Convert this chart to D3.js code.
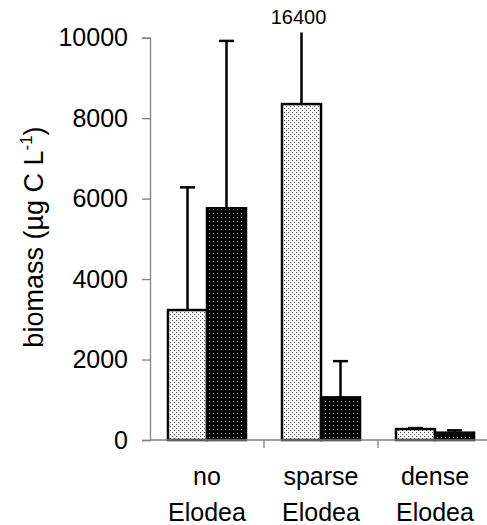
<!DOCTYPE html>
<html>
<head>
<meta charset="utf-8">
<script src="https://cdn.jsdelivr.net/npm/d3@7"></script>
<style>
  body { margin: 0; background: #fff; }
  text { font-family: "Liberation Sans", Arial, sans-serif; fill: #000; }
</style>
</head>
<body>
<svg id="chart" width="487" height="525"></svg>
<script>
// biomass by Elodea treatment, two series per group
const categories = ["no Elodea", "sparse Elodea", "dense Elodea"]
const categoryLines = [["no", "Elodea"], ["sparse", "Elodea"], ["dense", "Elodea"]]
const series = ["light", "dark"]
const lightMean = [3230, 8350, 272]
const darkMean = [5760, 1060, 182]
const lightUpper = [6280, 16400, 296]   // top of error bars
const darkUpper = [9920, 1960, 240]
const yTicks = [0, 2000, 4000, 6000, 8000, 10000]
const clipValue = 10130   // off-scale error bars stop here and get a label

const svg = d3.select('#chart')

const x = d3.scaleBand().domain(categories).range([150, 492])
const xs = d3.scaleBand().domain(series).range([18, 96])
const y = d3.scaleLinear().domain([0, 10000]).range([440, 37.7])

const rows = categories.flatMap((c, i) => [
  { cat: c, s: "light", mean: lightMean[i], upper: lightUpper[i] },
  { cat: c, s: "dark", mean: darkMean[i], upper: darkUpper[i] },
])

// dotted fills
const defs = svg.append('defs')
const pl = defs.append('pattern').attr('id', 'pLight').attr('patternUnits', 'userSpaceOnUse')
  .attr('width', 4).attr('height', 4)
pl.append('rect').attr('width', 4).attr('height', 4).attr('fill', '#fff')
pl.append('rect').attr('x', 0).attr('y', 0).attr('width', 1).attr('height', 1).attr('fill', '#444')
pl.append('rect').attr('x', 2).attr('y', 2).attr('width', 1).attr('height', 1).attr('fill', '#444')
const pd = defs.append('pattern').attr('id', 'pDark').attr('patternUnits', 'userSpaceOnUse')
  .attr('width', 4).attr('height', 4)
pd.append('rect').attr('width', 4).attr('height', 4).attr('fill', '#000')
pd.append('rect').attr('x', 1).attr('y', 1).attr('width', 1).attr('height', 1).attr('fill', '#999')

// error bars first, bars draw over the lower half
const eb = svg.append('g')
rows.forEach(d => {
  const cx = x(d.cat) + xs(d.s) + xs.bandwidth() / 2
  const top = Math.min(d.upper, clipValue)
  eb.append('line').attr('x1', cx).attr('x2', cx)
    .attr('y1', y(d.mean)).attr('y2', y(top))
    .attr('stroke', '#000').attr('stroke-width', 2.5)
  if (d.upper <= clipValue) {
    eb.append('line').attr('x1', cx - 7.5).attr('x2', cx + 7.5)
      .attr('y1', y(top)).attr('y2', y(top))
      .attr('stroke', '#000').attr('stroke-width', 2.5)
  } else {
    svg.append('text').attr('x', cx - 3).attr('y', y(top) - 8)
      .attr('text-anchor', 'middle').attr('font-size', 20)
      .text(d.upper)
  }
})

svg.append('g').selectAll('rect').data(rows).join('rect')
  .attr('x', d => x(d.cat) + xs(d.s))
  .attr('width', xs.bandwidth())
  .attr('y', d => y(d.mean))
  .attr('height', d => y(0) - y(d.mean))
  .attr('fill', d => d.s === 'light' ? 'url(#pLight)' : 'url(#pDark)')
  .attr('stroke', '#000').attr('stroke-width', 2.5)

// y axis
const yAxis = svg.append('g').attr('transform', 'translate(150,0)')
  .call(d3.axisLeft(y).tickValues(yTicks).tickSize(8).tickPadding(14).tickFormat(d3.format('d')))
yAxis.selectAll('path, line').attr('stroke', '#808080').attr('stroke-width', 1.3)
yAxis.selectAll('text').attr('font-size', 25).attr('font-family', '"Liberation Sans", Arial, sans-serif')

// x axis with ticks between groups
const xAxis = svg.append('g')
xAxis.append('line').attr('x1', 150).attr('x2', 492).attr('y1', y(0)).attr('y2', y(0))
  .attr('stroke', '#808080').attr('stroke-width', 1.3)
categories.slice(1).forEach(c => {
  xAxis.append('line').attr('x1', x(c)).attr('x2', x(c)).attr('y1', y(0)).attr('y2', y(0) + 8)
    .attr('stroke', '#808080').attr('stroke-width', 1.3)
})
categories.forEach((c, i) => {
  const t = svg.append('text').attr('text-anchor', 'middle').attr('font-size', 25)
  categoryLines[i].forEach((ln, k) => {
    t.append('tspan').attr('x', x(c) + x.bandwidth() / 2).attr('y', 485 + k * 36).text(ln)
  })
})

// y label
const yl = svg.append('text').attr('transform', 'translate(43,237) rotate(-90)')
  .attr('text-anchor', 'middle').attr('font-size', 27)
yl.append('tspan').text('biomass (µg C L')
yl.append('tspan').attr('font-size', 17).attr('dy', -11).text('-1')
yl.append('tspan').attr('dy', 11).text(')')
</script>
</body>
</html>
